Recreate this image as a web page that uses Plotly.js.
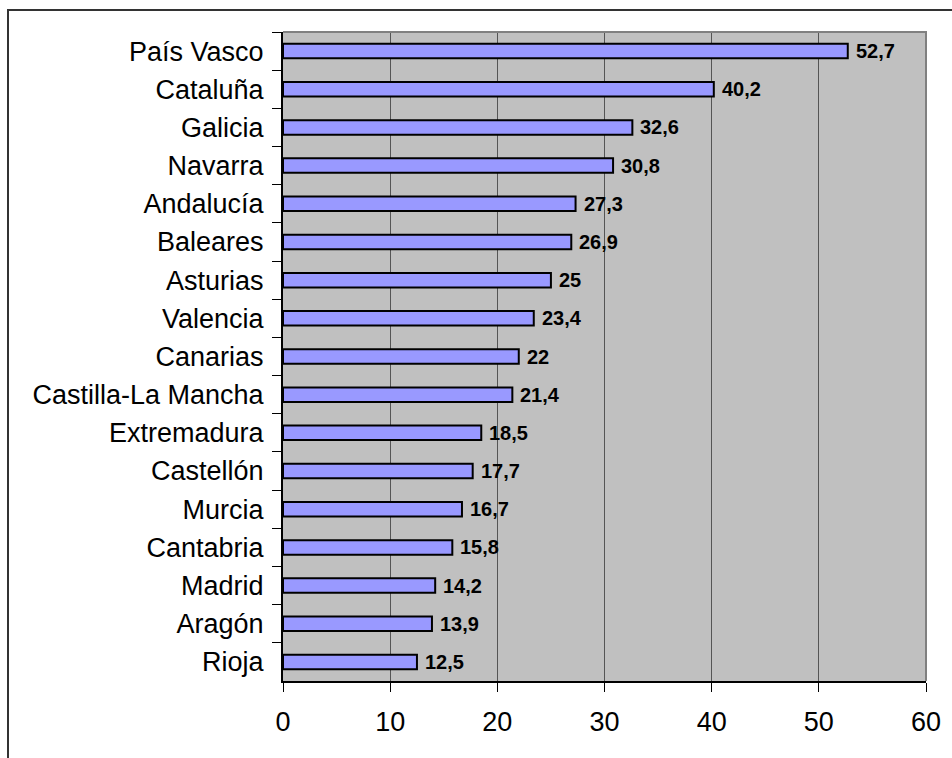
<!DOCTYPE html>
<html>
<head>
<meta charset="utf-8">
<script src="https://cdn.plot.ly/plotly-3.0.1.min.js"></script>
<style>
  html, body { margin: 0; padding: 0; background: #fff; }
  #wrap { position: relative; width: 952px; height: 758px; overflow: hidden; }
  #chart { position: absolute; left: 0; top: 0; width: 952px; height: 758px; }
  #frame { position: absolute; left: 7px; top: 9px; width: 1000px; height: 1000px;
           border-left: 2px solid #333; border-top: 2px solid #333; pointer-events: none; }
</style>
</head>
<body>
<div id="wrap">
  <div id="chart"></div>
  <div id="frame"></div>
</div>
<script>
const categories = ["País Vasco", "Cataluña", "Galicia", "Navarra", "Andalucía", "Baleares",
  "Asturias", "Valencia", "Canarias", "Castilla-La Mancha", "Extremadura", "Castellón",
  "Murcia", "Cantabria", "Madrid", "Aragón", "Rioja"];
const values = [52.7, 40.2, 32.6, 30.8, 27.3, 26.9, 25, 23.4, 22, 21.4, 18.5, 17.7,
  16.7, 15.8, 14.2, 13.9, 12.5];
const xTicks = [0, 10, 20, 30, 40, 50, 60];

const valueLabels = values.map(v => String(v).replace('.', ','));

const trace = {
  type: 'bar',
  orientation: 'h',
  x: values,
  y: categories,
  marker: { color: '#9999FF', line: { color: '#000000', width: 2 } },
  hoverinfo: 'none'
};

const annotations = values.map((v, i) => ({
  x: v, y: categories[i], xref: 'x', yref: 'y',
  text: '<b>' + valueLabels[i] + '</b>',
  showarrow: false, xanchor: 'left', yanchor: 'middle', xshift: 6,
  font: { family: 'Liberation Sans, Arial, sans-serif', size: 20, color: '#000' }
}));

const layout = {
  width: 952, height: 758,
  margin: { l: 283, r: 26, t: 32, b: 77, pad: 0 },
  paper_bgcolor: 'rgba(0,0,0,0)',
  plot_bgcolor: '#C0C0C0',
  showlegend: false,
  bargap: 0.62,
  font: { family: 'Liberation Sans, Arial, sans-serif', color: '#000' },
  xaxis: {
    range: [0, 60],
    tickvals: xTicks,
    ticktext: xTicks.map(String),
    ticks: 'outside', ticklen: 9, tickwidth: 1, tickcolor: '#000',
    showline: true, linecolor: '#000', linewidth: 2,
    showgrid: true, gridcolor: '#555555', gridwidth: 1,
    zeroline: false,
    tickfont: { size: 27 },
    ticklabelstandoff: 7,
    fixedrange: true
  },
  yaxis: {
    type: 'category',
    autorange: 'reversed',
    ticks: 'outside', ticklen: 9, tickwidth: 1, tickcolor: '#000',
    tickson: 'boundaries',
    showline: true, linecolor: '#000', linewidth: 2,
    showgrid: false, zeroline: false,
    tickfont: { size: 27 },
    ticklabelstandoff: 12,
    fixedrange: true
  },
  shapes: [{
    type: 'path', xref: 'paper', yref: 'paper',
    path: 'M 0 1 L 1 1 L 1 0',
    line: { color: '#808080', width: 2 },
    layer: 'above'
  }],
  annotations: annotations
};

Plotly.newPlot('chart', [trace], layout, { displayModeBar: false, staticPlot: true });
</script>
</body>
</html>
